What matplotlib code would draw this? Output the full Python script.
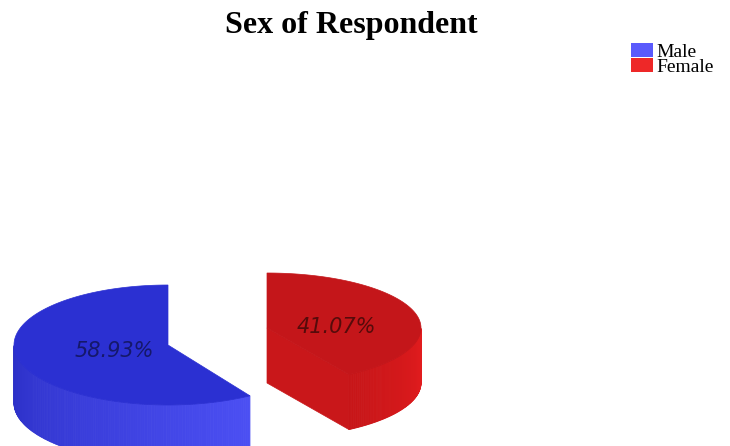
"""Sex of Respondent - exploded 3D-style pie, drawn with plain matplotlib patches."""

import numpy as np
import matplotlib

matplotlib.use("Agg")
import matplotlib.pyplot as plt  # noqa: E402
from matplotlib.patches import Polygon, Rectangle  # noqa: E402
from matplotlib.colors import to_rgb  # noqa: E402

# data
TITLE = "Sex of Respondent"
labels = ["Male", "Female"]
shares = [58.93, 41.07]

# styles
legend_colors = ["#5a5afc", "#ee2828"]
top_colors = ["#2b30d2", "#c4161a"]
side_dark = ["#2b2fc6", "#c71518"]
side_light = ["#4b4ff3", "#e21c1e"]
cut_colors = ["#2a2ec2", "#c9171a"]
text_colors = ["#15186a", "#560b0b"]

# layout (pixel space, y down)
W, H = 730, 446
centers = [(168, 345), (267, 328)]
RX = 154
ry_list = [60, 55]
depth_list = [58, 55]
label_frac = [0.36, 0.47]
label_dy = [0, 6]
START = 90.0


def _mix(c0, c1, f):
    a, b = np.array(to_rgb(c0)), np.array(to_rgb(c1))
    return tuple(a + (b - a) * f)


def _pt(cx, cy, ry, t):
    return cx + RX * np.cos(t), cy - ry * np.sin(t)


fig = plt.figure(figsize=(W / 100, H / 100), dpi=100)
fig.patch.set_facecolor("white")
ax = fig.add_axes([0, 0, 1, 1])
ax.set_xlim(0, W)
ax.set_ylim(H, 0)
ax.axis("off")

a0 = np.radians(START)
for i, share in enumerate(shares):
    a1 = a0 + np.radians(share * 3.6)
    cx, cy = centers[i]
    ry, h = ry_list[i], depth_list[i]

    # cut faces (only the ones turned towards the viewer)
    for edge, visible in ((a0, np.cos(a0) > 1e-6), (a1, np.cos(a1) < -1e-6)):
        if visible:
            px, py = _pt(cx, cy, ry, edge)
            ax.add_patch(Polygon([(cx, cy), (px, py), (px, py + h), (cx, cy + h)],
                                 closed=True, facecolor=cut_colors[i],
                                 edgecolor=cut_colors[i], lw=0.5, zorder=2))

    # outer wall, front half only, in thin shaded strips
    ts = np.linspace(a0, a1, 240)
    vis = ts[np.sin(ts) <= 0]
    if len(vis) > 1:
        for k in range(len(vis) - 1):
            f = k / (len(vis) - 2) if len(vis) > 2 else 0
            c = _mix(side_dark[i], side_light[i], f)
            x0, y0 = _pt(cx, cy, ry, vis[k])
            x1, y1 = _pt(cx, cy, ry, vis[k + 1])
            ax.add_patch(Polygon([(x0, y0), (x1, y1), (x1, y1 + h), (x0, y0 + h)],
                                 closed=True, facecolor=c, edgecolor=c,
                                 lw=0.6, zorder=3))

    # top face
    xs, ys = _pt(cx, cy, ry, ts)
    verts = [(cx, cy)] + list(zip(xs, ys))
    ax.add_patch(Polygon(verts, closed=True, facecolor=top_colors[i],
                         edgecolor=top_colors[i], lw=0.5, zorder=4))

    # percentage label
    mid = (a0 + a1) / 2
    lx = cx + label_frac[i] * RX * np.cos(mid)
    ly = cy - label_frac[i] * ry * np.sin(mid)
    ax.text(lx, ly + label_dy[i], f"{share:.2f}%", ha="center", va="center",
            fontsize=15, style="italic", family="DejaVu Sans",
            color=text_colors[i], zorder=5)
    a0 = a1

# title
ax.text(351, 25, TITLE, ha="center", va="center", fontsize=23,
        fontweight="bold", family="Liberation Serif", color="black")

# legend: swatches + one stacked label block (rows 15 px apart)
for i in range(len(labels)):
    ax.add_patch(Rectangle((631, 43 + 15 * i), 22, 14,
                           facecolor=legend_colors[i], edgecolor="none"))
ax.text(656, 60, "\n".join(labels), ha="left", va="center", fontsize=14,
        linespacing=0.8, family="Liberation Serif", color="black")

fig.savefig("out.png", dpi=100, facecolor="white")
